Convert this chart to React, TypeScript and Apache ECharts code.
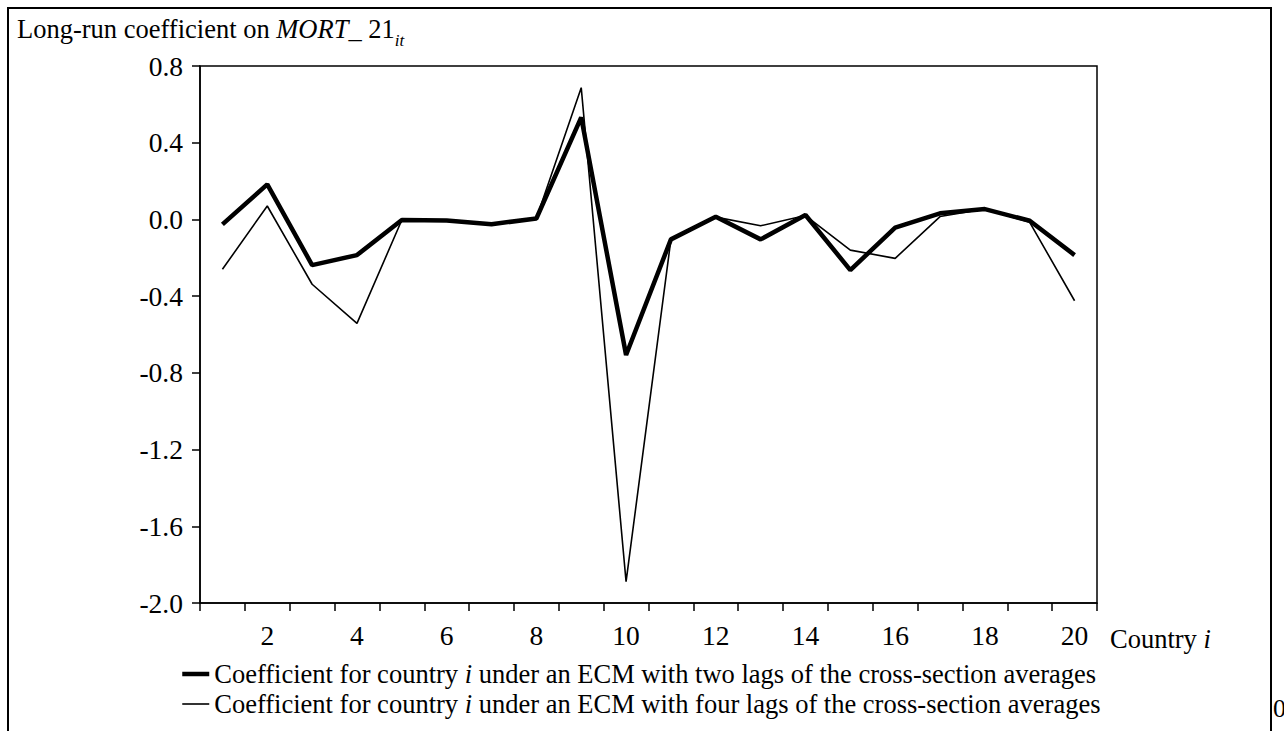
import React, { useEffect, useRef } from "react";
import * as echarts from "echarts";

const countries = ["1","2","3","4","5","6","7","8","9","10","11","12","13","14","15","16","17","18","19","20"];
const twoLags = [-0.026, 0.183, -0.238, -0.186, -0.003, -0.005, -0.025, 0.005, 0.532, -0.707, -0.104, 0.014, -0.104, 0.023, -0.264, -0.043, 0.032, 0.054, -0.007, -0.186];
const fourLags = [-0.26, 0.07, -0.338, -0.542, -0.003, -0.005, -0.025, 0.005, 0.687, -1.889, -0.104, 0.012, -0.033, 0.02, -0.16, -0.203, 0.015, 0.054, -0.015, -0.424];
const twoName = "Coefficient for country {it|i} under an ECM with two lags of the cross-section averages";
const fourName = "Coefficient for country {it|i} under an ECM with four lags of the cross-section averages";

const FONT = "'Liberation Serif', 'Times New Roman', serif";
const THICK = 4.5;
const THIN = 1.6;

export default function App() {
  const ref = useRef<HTMLDivElement>(null);
  useEffect(() => {
    if (!ref.current) return;
    const chart = echarts.init(ref.current, null, { renderer: "svg" });
    chart.setOption({
      animation: false,
      backgroundColor: "#fff",
      grid: {
        left: 200, top: 66, right: 187, bottom: 128,
        show: true, borderColor: "#000", borderWidth: 1.5, backgroundColor: "transparent",
      },
      legend: {
        orient: "vertical",
        left: 175,
        top: 654,
        height: 80,
        itemWidth: 27,
        itemHeight: 14,
        itemGap: 0,
        data: [
          { name: "two", lineStyle: { width: THICK, color: "#000" } },
          { name: "four", lineStyle: { width: THIN, color: "#000" } },
        ],
        formatter: (name: string) => (name === "two" ? twoName : fourName),
        itemStyle: { opacity: 0 },
        textStyle: {
          fontFamily: FONT, fontSize: 26.5, color: "#000", lineHeight: 30,
          rich: { it: { fontFamily: FONT, fontSize: 26.5, fontStyle: "italic", color: "#000", lineHeight: 30 } },
        },
      },
      xAxis: {
        type: "category",
        data: countries,
        boundaryGap: true,
        axisLine: { onZero: false, lineStyle: { color: "#000", width: 1.5 } },
        axisTick: { show: true, interval: 0, length: 8, inside: false, lineStyle: { color: "#000", width: 1.5 } },
        axisLabel: {
          interval: (index: number) => index % 2 === 1,
          fontFamily: FONT, fontSize: 27.5, color: "#000", margin: 18,
        },
        splitLine: { show: false },
      },
      yAxis: {
        type: "value",
        min: -2.0,
        max: 0.8,
        interval: 0.4,
        axisLine: { show: true, lineStyle: { color: "#000", width: 1.5 } },
        axisTick: { show: true, length: 8, inside: false, lineStyle: { color: "#000", width: 1.5 } },
        axisLabel: {
          formatter: (v: number) => v.toFixed(1),
          fontFamily: FONT, fontSize: 27.5, color: "#000", margin: 17,
        },
        splitLine: { show: false },
      },
      series: [
        {
          name: "four", type: "line", data: fourLags, symbol: "none",
          lineStyle: { color: "#000", width: THIN }, itemStyle: { color: "#000" }, z: 2,
        },
        {
          name: "two", type: "line", data: twoLags, symbol: "none",
          lineStyle: { color: "#000", width: THICK }, itemStyle: { color: "#000" }, z: 3,
        },
      ],
      graphic: [
        {
          type: "rect", z: 100, silent: true,
          shape: { x: 8, y: 8, width: 1263, height: 900 },
          style: { fill: "none", stroke: "#000", lineWidth: 2 },
        },
        {
          type: "text", left: 17, top: 15, z: 100,
          style: {
            text: "Long-run coefficient on {it|MORT_} 21{sub|it}",
            font: "26.5px " + FONT,
            fill: "#000",
            rich: {
              it: { fontFamily: FONT, fontSize: 26.5, fontStyle: "italic", lineHeight: 40 },
              sub: { fontFamily: FONT, fontSize: 17, fontStyle: "italic", lineHeight: 17, verticalAlign: "bottom" },
            },
          },
        },
        {
          type: "text", left: 1110, top: 625, z: 100,
          style: {
            text: "Country {it|i}",
            font: "26.5px " + FONT,
            fill: "#000",
            rich: { it: { fontFamily: FONT, fontSize: 26.5, fontStyle: "italic" } },
          },
        },
        {
          type: "text", left: 1273, top: 695, z: 100,
          style: { text: "0", font: "26px " + FONT, fill: "#000" },
        },
      ],
    });
    return () => chart.dispose();
  }, []);
  return (
    <div
      ref={ref}
      style={{ position: "fixed", left: 0, top: 0, width: 1284, height: 731, background: "#fff" }}
    />
  );
}
